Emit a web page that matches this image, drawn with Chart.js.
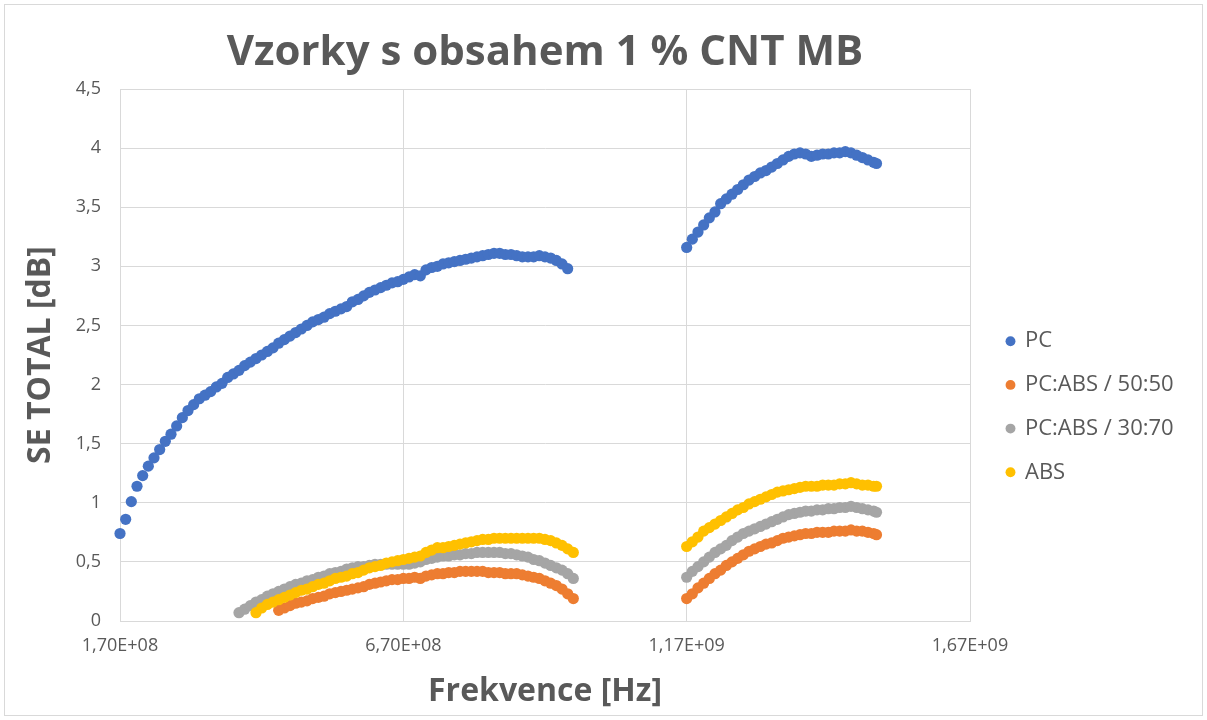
<!DOCTYPE html>
<html>
<head>
<meta charset="utf-8">
<script src="https://cdn.jsdelivr.net/npm/chart.js@4/dist/chart.umd.min.js"></script>
<style>
html,body{margin:0;padding:0;background:#fff;}
#wrap{position:relative;width:1207px;height:720px;}
</style>
</head>
<body>
<div id="wrap"><canvas id="c"></canvas></div>
<script>
// ---------- DATA ----------
const chartTitle = 'Vzorky s obsahem 1 % CNT MB';
const xAxisTitle = 'Frekvence [Hz]';
const yAxisTitle = 'SE TOTAL [dB]';
const seriesNames = ['PC', 'PC:ABS / 50:50', 'PC:ABS / 30:70', 'ABS'];
const seriesColors = ['#4472C4', '#ED7D31', '#A5A5A5', '#FFC000'];

const xTickValues = [1.7e8, 6.7e8, 1.17e9, 1.67e9];
const xTickLabels = ['1,70E+08', '6,70E+08', '1,17E+09', '1,67E+09'];
const yTickValues = [0, 0.5, 1, 1.5, 2, 2.5, 3, 3.5, 4, 4.5];
const yTickLabels = ['0', '0,5', '1', '1,5', '2', '2,5', '3', '3,5', '4', '4,5'];

// frequencies in MHz (lower band and upper band)
const freqLowMHz = [170,180,190,200,210,220,230,240,250,260,270,280,290,300,310,320,330,340,350,360,
  370,380,390,400,410,420,430,440,450,460,470,480,490,500,510,520,530,540,550,560,
  570,580,590,600,610,620,630,640,650,660,670,680,690,700,710,720,730,740,750,760,
  770,780,790,800,810,820,830,840,850,860,870,880,890,900,910,920,930,940,950,960,970];
const freqHighMHz = [1170,1180,1190,1200,1210,1220,1230,1240,1250,1260,1270,1280,1290,1300,1310,1320,1330,1340,1350,1360,
  1370,1380,1390,1400,1410,1420,1430,1440,1450,1460,1470,1480,1490,1500,1505];

// first frequency (MHz) of each series in the lower band
const lowStartMHz = [170, 450, 380, 410];

// PC
const pcLow = [0.74,0.86,1.01,1.14,1.23,1.31,1.38,1.45,1.52,1.58,
  1.65,1.72,1.78,1.83,1.88,1.91,1.94,1.98,2.01,2.06,
  2.09,2.12,2.16,2.19,2.22,2.25,2.28,2.31,2.35,2.38,
  2.41,2.44,2.47,2.50,2.53,2.55,2.57,2.60,2.62,2.64,
  2.66,2.70,2.72,2.75,2.78,2.80,2.82,2.84,2.86,2.87,
  2.89,2.91,2.93,2.92,2.97,2.99,3.00,3.02,3.03,3.04,
  3.05,3.06,3.07,3.08,3.09,3.10,3.11,3.11,3.10,3.10,
  3.09,3.08,3.08,3.08,3.09,3.08,3.07,3.05,3.02,2.98];
const pcHigh = [3.16,3.23,3.29,3.35,3.41,3.46,3.53,3.57,3.61,3.65,3.69,3.73,3.76,3.79,3.81,3.84,3.87,3.90,3.93,3.95,
  3.96,3.95,3.93,3.94,3.95,3.95,3.96,3.96,3.97,3.96,3.94,3.92,3.90,3.88,3.87];

// PC:ABS / 50:50
const pcabs5050Low = [0.09,0.11,0.13,0.15,0.16,0.17,0.19,0.20,0.21,0.23,
  0.24,0.25,0.26,0.27,0.28,0.29,0.31,0.32,0.33,0.34,
  0.35,0.35,0.36,0.36,0.37,0.36,0.38,0.39,0.40,0.40,
  0.41,0.41,0.42,0.42,0.42,0.42,0.42,0.41,0.41,0.41,
  0.40,0.40,0.40,0.39,0.38,0.37,0.36,0.34,0.32,0.30,
  0.27,0.23,0.19];
const pcabs5050High = [0.19,0.23,0.28,0.32,0.36,0.40,0.43,0.47,0.50,0.53,0.56,0.59,0.61,0.63,0.65,0.66,0.68,0.70,0.71,0.72,
  0.73,0.74,0.74,0.75,0.75,0.75,0.76,0.76,0.76,0.77,0.76,0.76,0.75,0.74,0.73];

// PC:ABS / 30:70
const pcabs3070Low = [0.07,0.10,0.13,0.16,0.18,0.21,0.23,0.25,0.27,0.29,
  0.31,0.32,0.34,0.35,0.37,0.38,0.40,0.41,0.42,0.44,
  0.45,0.46,0.46,0.47,0.48,0.48,0.48,0.48,0.48,0.48,
  0.48,0.49,0.50,0.52,0.53,0.54,0.55,0.55,0.56,0.56,
  0.57,0.57,0.58,0.58,0.58,0.58,0.58,0.57,0.57,0.56,
  0.55,0.54,0.52,0.51,0.49,0.47,0.45,0.43,0.40,0.36];
const pcabs3070High = [0.37,0.42,0.46,0.50,0.54,0.58,0.61,0.64,0.68,0.71,0.74,0.76,0.78,0.80,0.82,0.84,0.86,0.88,0.90,0.91,
  0.92,0.93,0.93,0.94,0.94,0.95,0.95,0.96,0.96,0.97,0.96,0.95,0.94,0.93,0.92];

// ABS
const absLow = [0.07,0.11,0.14,0.16,0.18,0.20,0.22,0.24,0.26,0.27,
  0.29,0.31,0.32,0.34,0.36,0.37,0.38,0.40,0.41,0.43,
  0.45,0.46,0.47,0.49,0.50,0.51,0.52,0.53,0.54,0.55,
  0.58,0.60,0.62,0.62,0.63,0.64,0.65,0.66,0.67,0.68,
  0.69,0.69,0.70,0.70,0.70,0.70,0.70,0.70,0.70,0.70,
  0.70,0.69,0.68,0.66,0.64,0.61,0.58];
const absHigh = [0.63,0.67,0.71,0.76,0.79,0.82,0.85,0.88,0.91,0.94,0.96,0.99,1.01,1.03,1.05,1.07,1.09,1.10,1.11,1.12,
  1.13,1.14,1.14,1.14,1.15,1.15,1.15,1.16,1.16,1.17,1.16,1.15,1.15,1.14,1.14];

// ---------- BUILD ----------
function toPoints(freqs, startMHz, vals) {
  const i0 = freqs.indexOf(startMHz);
  return vals.map((v, i) => ({ x: freqs[i0 + i] * 1e6, y: v }));
}
const lowSets = [pcLow, pcabs5050Low, pcabs3070Low, absLow];
const highSets = [pcHigh, pcabs5050High, pcabs3070High, absHigh];

const datasets = seriesNames.map((name, s) => ({
  label: name,
  data: toPoints(freqLowMHz, lowStartMHz[s], lowSets[s]).concat(toPoints(freqHighMHz, 1170, highSets[s])),
  backgroundColor: seriesColors[s],
  borderColor: seriesColors[s],
  pointRadius: 5.6,
  pointHoverRadius: 5.6,
  pointBorderWidth: 0,
  pointStyle: 'circle',
  showLine: false,
  clip: false,
  order: seriesNames.length - 1 - s
}));

const GRID = '#D9D9D9';
const TXT = '#595959';
const FONT = "'Open Sans', 'Noto Sans', sans-serif";

const frame = {
  id: 'frame',
  beforeDraw(chart) {
    const ctx = chart.ctx;
    ctx.save();
    ctx.fillStyle = '#ffffff';
    ctx.fillRect(0, 0, chart.width, chart.height);
    ctx.strokeStyle = GRID;
    ctx.lineWidth = 1;
    ctx.strokeRect(4.5, 4.5, chart.width - 9, chart.height - 9);
    ctx.restore();
  }
};
const legendPlace = {
  id: 'legendPlace',
  afterLayout(chart) {
    const lg = chart.legend;
    if (!lg) return;
    const w = lg.width, h = lg.height;
    lg.left = 985.3; lg.right = lg.left + w;
    lg.top = 308.5; lg.bottom = lg.top + h;
  }
};

new Chart(document.getElementById('c'), {
  type: 'scatter',
  data: { datasets },
  plugins: [frame, legendPlace],
  options: {
    responsive: true,
    maintainAspectRatio: false,
    animation: false,
    events: [],
    layout: { padding: { left: 0, right: 237, top: 0, bottom: 0 } },
    plugins: {
      title: {
        display: true,
        text: chartTitle,
        fullSize: false,
        color: TXT,
        font: { family: FONT, size: 42, weight: 'bold' },
        padding: { top: 28, bottom: 10.6 }
      },
      legend: {
        display: true,
        position: 'chartArea',
        align: 'start',
        labels: {
          usePointStyle: true,
          pointStyle: 'circle',
          boxWidth: 7,
          boxHeight: 7,
          padding: 21.7,
          color: TXT,
          font: { family: FONT, size: 22 },
          sort: (a, b) => a.datasetIndex - b.datasetIndex
        }
      },
      tooltip: { enabled: false }
    },
    scales: {
      x: {
        type: 'linear',
        position: 'bottom',
        min: xTickValues[0],
        max: xTickValues[xTickValues.length - 1],
        afterBuildTicks: s => { s.ticks = xTickValues.map(v => ({ value: v })); },
        afterFit: s => { s.height = 99; },
        grid: { color: GRID, lineWidth: 1, drawTicks: false },
        border: { color: GRID },
        ticks: {
          padding: 14,
          color: TXT,
          font: { family: FONT, size: 18 },
          maxRotation: 0,
          autoSkip: false,
          callback: (v, i) => xTickLabels[i]
        },
        title: {
          display: true,
          text: xAxisTitle,
          color: TXT,
          font: { family: FONT, size: 32, weight: 'bold' },
          padding: { top: 0, bottom: 9 }
        }
      },
      y: {
        type: 'linear',
        position: 'left',
        min: yTickValues[0],
        max: yTickValues[yTickValues.length - 1],
        afterBuildTicks: s => { s.ticks = yTickValues.map(v => ({ value: v })); },
        afterFit: s => { s.width = 120; },
        grid: { color: GRID, lineWidth: 1, drawTicks: false },
        border: { color: GRID },
        ticks: {
          padding: 19,
          color: TXT,
          font: { family: FONT, size: 18 },
          autoSkip: false,
          callback: (v, i) => yTickLabels[i]
        },
        title: {
          display: true,
          text: yAxisTitle,
          color: TXT,
          font: { family: FONT, size: 32, weight: 'bold' },
          padding: { top: 22, bottom: 0 }
        }
      }
    }
  }
});
</script>
</body>
</html>
